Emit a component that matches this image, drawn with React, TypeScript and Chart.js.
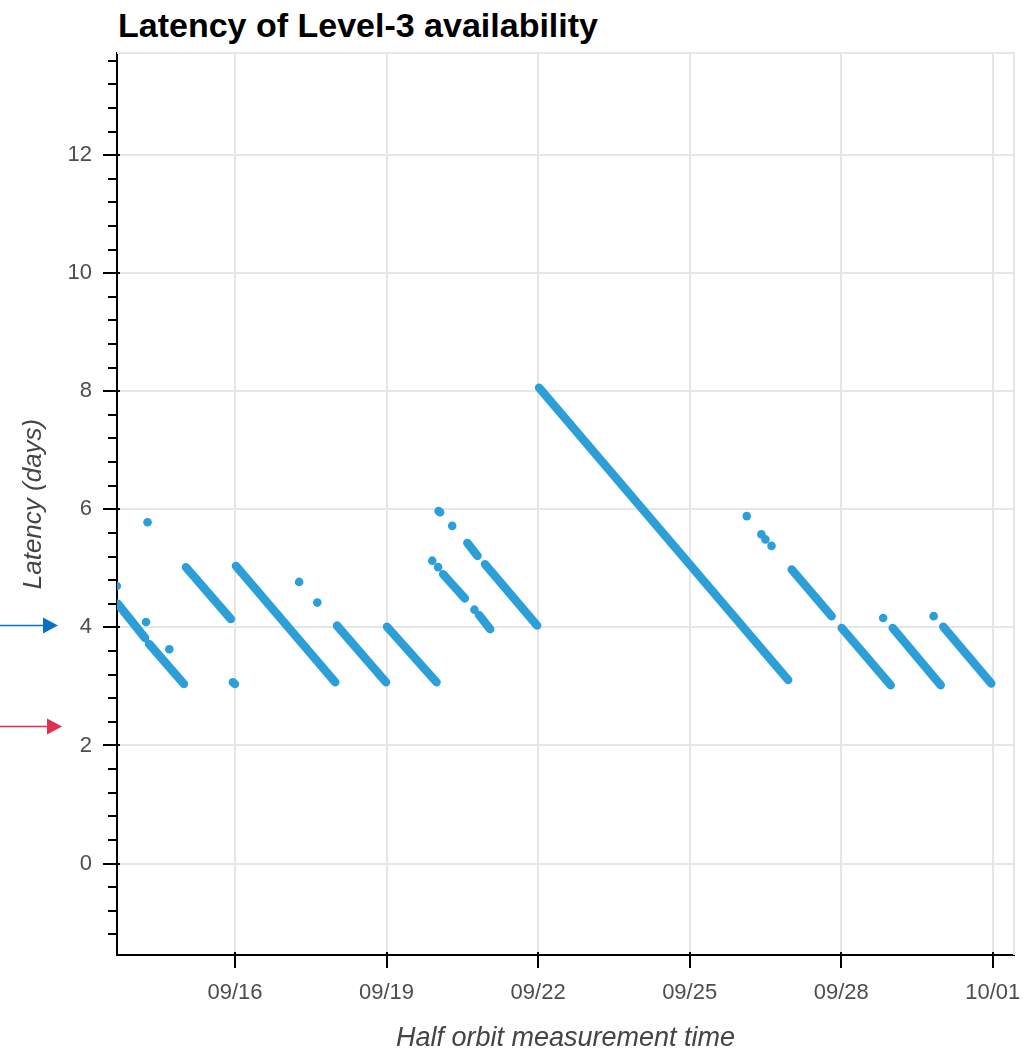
import React, { useEffect, useRef } from "react";
import { Chart, registerables } from "chart.js";

Chart.register(...registerables);

// x values are "day of September" (e.g. 22.0 = 09/22 00:00, 31.0 = 10/01 00:00)
const chartTitle = "Latency of Level-3 availability";
const xAxisTitle = "Half orbit measurement time";
const yAxisTitle = "Latency (days)";

const xTickDays = [16, 19, 22, 25, 28, 31];
const xTickLabels = ["09/16", "09/19", "09/22", "09/25", "09/28", "10/01"];
const yTickValues = [0, 2, 4, 6, 8, 10, 12];

const xMin = 13.665;
const xMax = 31.42;
const yMin = -1.55;
const yMax = 13.73;
const yMinorStep = 0.4;

// continuous runs of half-orbit points (start / end of each run)
const segStartDay = [13.68, 14.30, 15.03, 16.02, 18.02, 19.01, 20.12, 20.83, 20.60, 20.95, 22.02, 27.02, 28.01, 29.02, 30.02];
const segStartLat = [4.40, 3.72, 5.02, 5.04, 4.03, 4.01, 4.90, 4.21, 5.43, 5.07, 8.06, 4.98, 3.99, 3.99, 4.01];
const segEndDay = [14.22, 14.99, 15.92, 17.985, 18.99, 19.99, 20.55, 21.05, 20.80, 21.98, 26.95, 27.81, 28.98, 29.97, 30.97];
const segEndLat = [3.82, 3.04, 4.14, 3.07, 3.07, 3.07, 4.49, 3.97, 5.21, 4.03, 3.11, 4.19, 3.02, 3.02, 3.05];

// isolated half-orbit points
const dotDay = [13.66, 14.27, 14.24, 14.70, 15.96, 16.0, 17.27, 17.63, 19.905, 20.02, 20.03, 20.06, 20.30, 20.74, 26.13, 26.42, 26.50, 26.62, 28.83, 29.83];
const dotLat = [4.70, 5.78, 4.09, 3.63, 3.07, 3.04, 4.77, 4.42, 5.13, 5.02, 5.97, 5.95, 5.72, 4.30, 5.885, 5.575, 5.49, 5.38, 4.16, 4.19];

// annotation arrows on the left (latency values they point at)
const blueArrowValue = 4.03;
const redArrowValue = 2.32;

const pointColor = "#2c9fd9";
const FONT = '"Liberation Sans", Arial, Helvetica, sans-serif';

const decoPlugin = {
  id: "deco",
  beforeDatasetsDraw(chart: any) {
    const { ctx, chartArea: a } = chart;
    ctx.save();
    ctx.strokeStyle = "#e6e6e6";
    ctx.lineWidth = 2;
    ctx.beginPath();
    ctx.moveTo(a.left, a.top);
    ctx.lineTo(a.right, a.top);
    ctx.lineTo(a.right, a.bottom);
    ctx.stroke();
    ctx.restore();
  },
  afterDraw(chart: any) {
    const { ctx, chartArea: a, scales } = chart;
    const ys = scales.y;
    const xs = scales.x;
    ctx.save();
    ctx.strokeStyle = "#000";
    ctx.lineWidth = 2;
    // y ticks (major every 2, minor every 0.4)
    const kStart = Math.ceil(ys.min / yMinorStep - 1e-9);
    for (let k = kStart; k * yMinorStep <= ys.max + 1e-9; k++) {
      const v = k * yMinorStep;
      const py = Math.round(ys.getPixelForValue(v));
      const major = Math.abs(v / 2 - Math.round(v / 2)) < 1e-6;
      ctx.beginPath();
      ctx.moveTo(a.left - (major ? 14 : 9), py);
      ctx.lineTo(a.left + (major ? 3 : 0), py);
      ctx.stroke();
    }
    // x ticks
    xTickDays.forEach((d) => {
      const px = Math.round(xs.getPixelForValue(d));
      ctx.beginPath();
      ctx.moveTo(px, a.bottom - 3);
      ctx.lineTo(px, a.bottom + 13);
      ctx.stroke();
    });
    // arrows
    const drawArrow = (val: number, color: string, lineEnd: number, tip: number) => {
      const py = ys.getPixelForValue(val);
      ctx.strokeStyle = color;
      ctx.fillStyle = color;
      ctx.lineWidth = 1.5;
      ctx.beginPath();
      ctx.moveTo(0, py);
      ctx.lineTo(lineEnd, py);
      ctx.stroke();
      ctx.beginPath();
      ctx.moveTo(tip, py);
      ctx.lineTo(tip - 15, py - 8);
      ctx.lineTo(tip - 15, py + 8);
      ctx.closePath();
      ctx.fill();
    };
    drawArrow(blueArrowValue, "#0b6fc6", 45, 58);
    drawArrow(redArrowValue, "#e0304e", 48, 62);
    ctx.restore();
  },
};

export default function App() {
  const canvasRef = useRef<HTMLCanvasElement | null>(null);

  useEffect(() => {
    const canvas = canvasRef.current;
    if (!canvas) return;

    const lineData: { x: number; y: number | null }[] = [];
    segStartDay.forEach((s, i) => {
      lineData.push({ x: s, y: segStartLat[i] });
      lineData.push({ x: segEndDay[i], y: segEndLat[i] });
      lineData.push({ x: segEndDay[i], y: null });
    });
    const dotData = dotDay.map((d, i) => ({ x: d, y: dotLat[i] }));

    const tickFont = { family: FONT, size: 22 };
    const titleFont = { family: FONT, size: 26, style: "italic" as const, lineHeight: 1 };

    const chart = new Chart(canvas, {
      type: "line",
      data: {
        datasets: [
          {
            type: "line",
            data: lineData as any,
            borderColor: pointColor,
            backgroundColor: pointColor,
            borderWidth: 8.5,
            borderCapStyle: "round",
            borderJoinStyle: "round",
            pointRadius: 0,
            pointHoverRadius: 0,
            spanGaps: false,
            fill: false,
            tension: 0,
          },
          {
            type: "scatter",
            data: dotData as any,
            backgroundColor: pointColor,
            borderWidth: 0,
            pointRadius: 4.3,
            pointHoverRadius: 4.3,
          },
        ],
      },
      options: {
        animation: false,
        responsive: false,
        devicePixelRatio: 1,
        events: [],
        layout: { padding: { top: 53, right: 9, left: 0, bottom: 0 }, autoPadding: false },
        plugins: { legend: { display: false }, tooltip: { enabled: false }, title: { display: false } },
        scales: {
          x: {
            type: "linear",
            min: xMin,
            max: xMax,
            afterBuildTicks: (scale: any) => {
              scale.ticks = xTickDays.map((v) => ({ value: v }));
            },
            afterFit: (scale: any) => {
              scale.height = 94;
              scale.paddingLeft = 0;
              scale.paddingRight = 0;
            },
            grid: { color: "#e6e6e6", lineWidth: 2, drawTicks: false },
            border: { color: "#000", width: 2 },
            ticks: {
              font: tickFont,
              color: "#4d4d4d",
              padding: 25,
              maxRotation: 0,
              autoSkip: false,
              callback: (v: any) => {
                const i = xTickDays.indexOf(Number(v));
                return i >= 0 ? xTickLabels[i] : "";
              },
            },
            title: {
              display: true,
              text: xAxisTitle,
              font: { ...titleFont, size: 27 },
              color: "#444",
              padding: { top: 0, bottom: -3 },
            },
          },
          y: {
            type: "linear",
            min: yMin,
            max: yMax,
            afterBuildTicks: (scale: any) => {
              scale.ticks = yTickValues.map((v) => ({ value: v }));
            },
            afterFit: (scale: any) => {
              scale.width = 117;
              scale.paddingTop = 0;
              scale.paddingBottom = 0;
            },
            grid: { color: "#e6e6e6", lineWidth: 2, drawTicks: false },
            border: { color: "#000", width: 2 },
            ticks: {
              font: tickFont,
              color: "#4d4d4d",
              padding: 25,
              autoSkip: false,
              callback: (v: any) => String(v),
            },
            title: {
              display: true,
              text: yAxisTitle,
              font: titleFont,
              color: "#444",
              padding: { top: 21, bottom: 0 },
            },
          },
        },
      },
      plugins: [decoPlugin],
    });

    return () => chart.destroy();
  }, []);

  return (
    <div style={{ position: "absolute", left: 0, top: 0, width: 1023, height: 1049, background: "#fff" }}>
      <div
        style={{
          position: "absolute",
          left: 118,
          top: 8,
          fontFamily: FONT,
          fontWeight: "bold",
          fontSize: 34,
          lineHeight: "34px",
          color: "#000",
          whiteSpace: "nowrap",
        }}
      >
        {chartTitle}
      </div>
      <canvas ref={canvasRef} width={1023} height={1049} style={{ position: "absolute", left: 0, top: 0, width: 1023, height: 1049 }} />
    </div>
  );
}
